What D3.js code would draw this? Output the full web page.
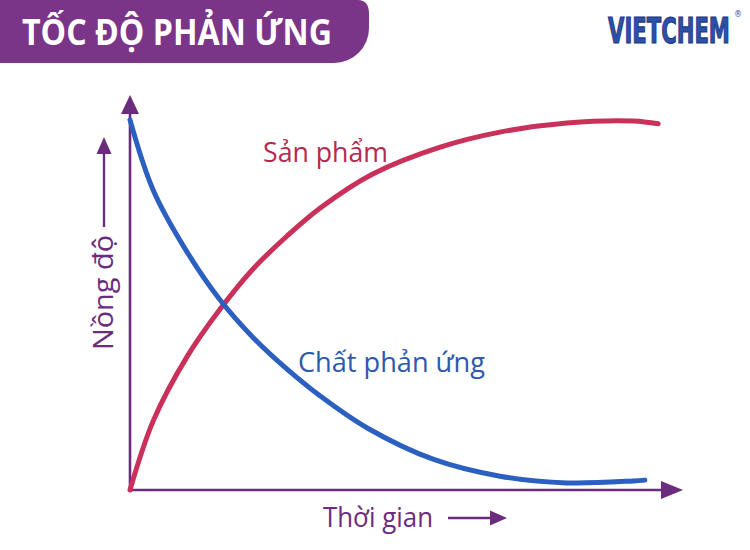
<!DOCTYPE html>
<html>
<head>
<meta charset="utf-8">
<script src="https://cdn.jsdelivr.net/npm/d3@7/dist/d3.min.js"></script>
<style>
  html, body { margin: 0; padding: 0; background: #ffffff; }
  svg { display: block; }
</style>
</head>
<body>
<svg id="chart" width="750" height="550"></svg>
<script>
// ---- data (time in arbitrary units, concentration in arbitrary units) ----
const title = "TỐC ĐỘ PHẢN ỨNG";
const logoText = "VIETCHEM";
const xLabel = "Thời gian";
const yLabel = "Nồng độ";
const reactantName = "Chất phản ứng";
const productName = "Sản phẩm";

const reactantTime = [0, 0.42, 1.03, 1.63, 2.22, 2.84, 3.44, 4.29, 5.48, 6.69, 7.90, 9.10, 9.31];
const reactantConc = [9.37, 7.59, 6.03, 4.81, 3.87, 3.06, 2.38, 1.57, 0.78, 0.35, 0.18, 0.23, 0.25];

const productTime = [0, 0.42, 1.03, 1.63, 2.22, 2.84, 3.44, 4.39, 5.61, 6.69, 7.90, 9.10, 9.55];
const productConc = [0, 1.75, 3.37, 4.58, 5.59, 6.43, 7.14, 8.00, 8.68, 9.06, 9.29, 9.34, 9.27];

const xDomain = [0, 10];
const yDomain = [0, 10];

// ---- layout ----
const svg = d3.select("#chart");
const origin = { x: 130, y: 490 };
const x = d3.scaleLinear().domain(xDomain).range([origin.x, 683]);
const y = d3.scaleLinear().domain(yDomain).range([origin.y, 95]);

const purple = "#6b2c7d";
const red = "#c9305a";
const blue = "#2b5fc0";

// ---- title banner ----
svg.append("path")
  .attr("d", "M0,0 H358 Q369,0 369,14 V28 A35,35 0 0 1 334,63 H0 Z")
  .attr("fill", "#7a3589");
svg.append("text")
  .attr("x", 22).attr("y", 45)
  .attr("font-family", "Open Sans, sans-serif")
  .attr("font-weight", 700)
  .attr("font-size", 35)
  .attr("fill", "#ffffff")
  .attr("textLength", 310)
  .attr("lengthAdjust", "spacingAndGlyphs")
  .text(title);

// ---- logo ----
const logo = svg.append("text")
  .attr("font-family", "DejaVu Sans, sans-serif")
  .attr("font-weight", 700)
  .attr("font-size", 35)
  .attr("fill", "#2d50a8")
  .attr("stroke", "#1b3680")
  .attr("stroke-width", 1.2)
  .text(logoText);
const logoW = logo.node().getComputedTextLength();
logo.attr("transform", `translate(608,43) scale(${122 / logoW},1)`);
svg.append("text")
  .attr("x", 734).attr("y", 17)
  .attr("font-family", "DejaVu Sans, sans-serif")
  .attr("font-size", 8)
  .attr("fill", "#2d50a8")
  .text("®");

// ---- axes (no ticks) ----
const xAxis = d3.axisBottom(x).tickValues([]).tickSizeOuter(0);
const yAxis = d3.axisLeft(y).tickValues([]).tickSizeOuter(0);
const gx = svg.append("g").attr("transform", `translate(0,${origin.y})`).call(xAxis);
const gy = svg.append("g").attr("transform", `translate(${origin.x},0)`).call(yAxis);
[gx, gy].forEach(g => g.select(".domain")
  .attr("stroke", purple).attr("stroke-width", 2.6).attr("fill", "none"));
gx.select(".domain").attr("d", `M${x(xDomain[0])},0H${x(xDomain[1]) - 15}`);
gy.select(".domain").attr("d", `M0,${y(yDomain[0])}V${y(yDomain[1]) + 15}`);

// arrow heads
const xe = x(xDomain[1]), ye = y(yDomain[1]);
svg.append("path")
  .attr("d", `M${xe},${origin.y} L${xe - 22},${origin.y - 9} L${xe - 22},${origin.y + 9} Z`)
  .attr("fill", purple);
svg.append("path")
  .attr("d", `M${origin.x},${ye} L${origin.x - 9},${ye + 19} L${origin.x + 9},${ye + 19} Z`)
  .attr("fill", purple);

// ---- curves ----
const line = d3.line().curve(d3.curveCatmullRom.alpha(0.5))
  .x(d => x(d[0])).y(d => y(d[1]));

const productData = productTime.map((t, i) => [t, productConc[i]]);
const reactantData = reactantTime.map((t, i) => [t, reactantConc[i]]);

svg.append("path")
  .datum(productData)
  .attr("d", line)
  .attr("fill", "none")
  .attr("stroke", red)
  .attr("stroke-width", 5)
  .attr("stroke-linecap", "round");

svg.append("path")
  .datum(reactantData)
  .attr("d", line)
  .attr("fill", "none")
  .attr("stroke", blue)
  .attr("stroke-width", 5)
  .attr("stroke-linecap", "round");

// ---- series labels ----
svg.append("text")
  .attr("x", 263).attr("y", 162)
  .attr("font-family", "Open Sans, sans-serif")
  .attr("font-size", 28)
  .attr("fill", "#b5294f")
  .attr("textLength", 125)
  .attr("lengthAdjust", "spacingAndGlyphs")
  .text(productName);

svg.append("text")
  .attr("x", 298).attr("y", 372)
  .attr("font-family", "Open Sans, sans-serif")
  .attr("font-size", 28)
  .attr("fill", "#2c59aa")
  .attr("textLength", 187)
  .attr("lengthAdjust", "spacingAndGlyphs")
  .text(reactantName);

// ---- axis titles with arrows ----
svg.append("text")
  .attr("x", 323).attr("y", 527)
  .attr("font-family", "Open Sans, sans-serif")
  .attr("font-size", 27)
  .attr("fill", "#6b2c7d")
  .attr("textLength", 110)
  .attr("lengthAdjust", "spacingAndGlyphs")
  .text(xLabel);
svg.append("line")
  .attr("x1", 448).attr("y1", 518).attr("x2", 494).attr("y2", 518)
  .attr("stroke", purple).attr("stroke-width", 2.4);
svg.append("path")
  .attr("d", "M507,518 L490,510.5 L490,525.5 Z")
  .attr("fill", purple);

svg.append("text")
  .attr("transform", "translate(113,350) rotate(-90)")
  .attr("font-family", "Open Sans, sans-serif")
  .attr("font-size", 27)
  .attr("fill", "#6b2c7d")
  .attr("textLength", 115)
  .attr("lengthAdjust", "spacingAndGlyphs")
  .text(yLabel);
svg.append("line")
  .attr("x1", 104).attr("y1", 227).attr("x2", 104).attr("y2", 150)
  .attr("stroke", purple).attr("stroke-width", 2.4);
svg.append("path")
  .attr("d", "M104,137 L96.5,154 L111.5,154 Z")
  .attr("fill", purple);
</script>
</body>
</html>
